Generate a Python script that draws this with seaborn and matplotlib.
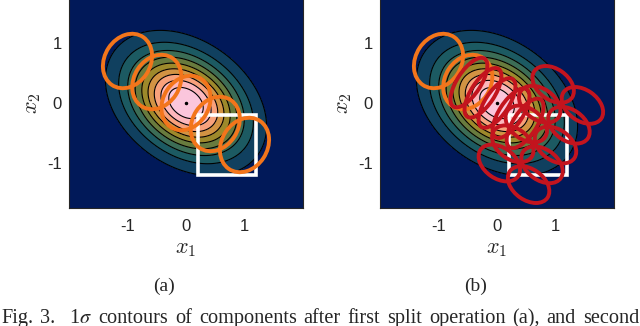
import numpy as np
import matplotlib
matplotlib.use("Agg")
import matplotlib.pyplot as plt
from matplotlib.patches import Ellipse, Rectangle
import seaborn as sns

sns.set_style("ticks")
plt.rcParams['font.family'] = ['Liberation Sans', 'DejaVu Sans']
plt.rcParams['mathtext.fontset'] = 'cm'

# target gaussian (mean, 1-sigma lengths along major/minor axis, tilt in deg)
gauss_mean = [0.0, 0.0]
gauss_std = [0.70, 0.49]
gauss_angle = -34.0
level_frac = [0.1, 0.2, 0.3, 0.4, 0.5, 0.6, 0.7, 0.8, 0.9]
band_colors = ["#011959", "#10405F", "#1C5A62", "#3C6D56", "#687B3E",
               "#9D892B", "#D29343", "#F8A17B", "#FDB7BC", "#FBC6DC"]

# white box
box_x = [0.2, 1.2]
box_y = [-1.2, -0.2]

# (a) components after first split
a_cx = [-1.0, -0.5, 0.0, 0.5, 1.0]
a_cy = [0.7, 0.35, 0.0, -0.35, -0.7]
a_su = [0.39, 0.39, 0.39, 0.39, 0.39]
a_sv = [0.48, 0.48, 0.48, 0.48, 0.48]

# (b) kept components (orange) + components after second split (red)
b_keep = [0, 1]
b_cx = [-0.48, -0.24, 0.0, 0.24, 0.48,
        0.04, 0.27, 0.5, 0.73, 0.96,
        0.54, 0.77, 1.0, 1.23, 1.46]
b_cy = [0.34, 0.17, 0.0, -0.17, -0.34,
        -1.0, -0.68, -0.35, -0.02, 0.31,
        -1.36, -1.03, -0.7, -0.37, -0.04]
b_su = [0.2] * 5 + [0.39] * 10
b_sv = [0.48] * 5 + [0.26] * 10

caption_words = ['Fig.', '3.', r'1$\sigma$', 'contours', 'of', 'components', 'after',
                 'first', 'split', 'operation', '(a),', 'and', 'second']

orange = "#F3751B"
red = "#C3141E"
ink = "#262626"

xx = np.linspace(-2, 2, 401)
yy = np.linspace(-1.8, 1.8, 361)
X, Y = np.meshgrid(xx, yy)
th = np.deg2rad(gauss_angle)
U = (X - gauss_mean[0]) * np.cos(th) + (Y - gauss_mean[1]) * np.sin(th)
V = -(X - gauss_mean[0]) * np.sin(th) + (Y - gauss_mean[1]) * np.cos(th)
P = np.exp(-0.5 * ((U / gauss_std[0]) ** 2 + (V / gauss_std[1]) ** 2))
levels = [0] + level_frac + [1.01]

fig = plt.figure(figsize=(6.4, 3.26), dpi=100)
ax_a = fig.add_axes([69 / 640, 118 / 326, 234 / 640, 210 / 326])
ax_b = fig.add_axes([380 / 640, 118 / 326, 234 / 640, 210 / 326])


def draw_base(ax):
    ax.contourf(X, Y, P, levels=levels, colors=band_colors)
    ax.contour(X, Y, P, levels=level_frac, colors='k', linewidths=0.8)
    ax.plot(gauss_mean[0], gauss_mean[1], 'k.', ms=3)
    ax.add_patch(Rectangle((box_x[0], box_y[0]), box_x[1] - box_x[0], box_y[1] - box_y[0],
                           fill=False, ec='white', lw=2.6, zorder=3))
    ax.set_xlim(-2, 2)
    ax.set_ylim(-1.75, 1.75)
    ax.set_xticks([-1, 0, 1])
    ax.set_yticks([-1, 0, 1])
    ax.set_xticklabels(['-1', '0', '1'])
    ax.set_yticklabels(['-1', '0', '1'])
    ax.tick_params(direction='in', length=3, width=0.6, top=True, right=True,
                   colors=ink, labelsize=12)
    ax.tick_params(axis='x', pad=8)
    ax.tick_params(axis='y', pad=5)
    for s in ax.spines.values():
        s.set_color(ink)
        s.set_linewidth(0.8)
    ax.set_xlabel('$x_1$', fontsize=16, labelpad=3)
    ax.set_ylabel('$x_2$', fontsize=16, labelpad=3)


def add_ell(ax, cx, cy, su, sv, color):
    ax.add_patch(Ellipse((cx, cy), 2 * su, 2 * sv, angle=gauss_angle,
                         fill=False, ec=color, lw=2.8, zorder=4))


draw_base(ax_a)
for i in range(len(a_cx)):
    add_ell(ax_a, a_cx[i], a_cy[i], a_su[i], a_sv[i], orange)

draw_base(ax_b)
for i in b_keep:
    add_ell(ax_b, a_cx[i], a_cy[i], a_su[i], a_sv[i], orange)
for i in range(len(b_cx)):
    add_ell(ax_b, b_cx[i], b_cy[i], b_su[i], b_sv[i], red)

serif = ['Liberation Serif', 'DejaVu Serif']
fig.text(164 / 640, 1 - 286 / 326, '(a)', ha='center', va='center', fontsize=14, family=serif)
fig.text(476 / 640, 1 - 286 / 326, '(b)', ha='center', va='center', fontsize=14, family=serif)

# justified caption line, cut by the bottom edge like the scan
words = [fig.text(0, 3 / 326, w, ha='left', va='baseline', fontsize=14.6,
                  family=serif, math_fontfamily='stix') for w in caption_words]
r = fig.canvas.get_renderer()
widths = [t.get_window_extent(r).width for t in words]
left, right = 1.0, 639.0
n_gap = len(words) - 1 + 1  # double gap after "3."
gap = (right - left - sum(widths)) / n_gap
x = left
for i, (t, wd) in enumerate(zip(words, widths)):
    t.set_x(x / 640)
    x += wd + gap * (2 if i == 1 else 1)

fig.savefig('out.png', dpi=100)
